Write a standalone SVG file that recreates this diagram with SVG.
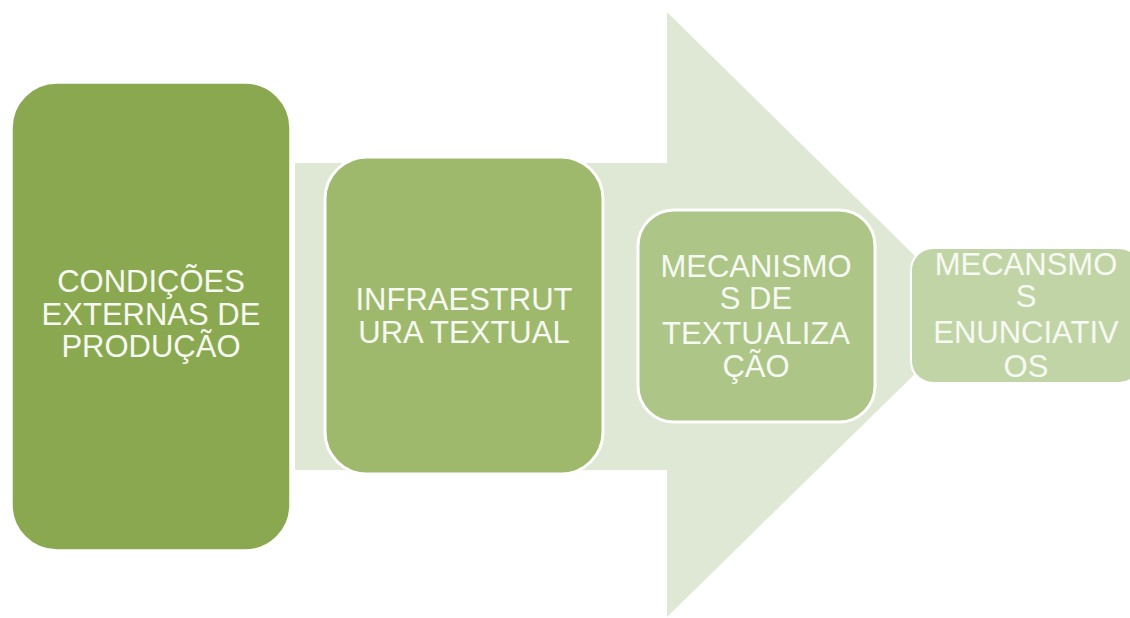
<svg xmlns="http://www.w3.org/2000/svg" width="1130" height="618" viewBox="0 0 1130 618">
  <style>
    .lbl { font-family: "Liberation Sans", Arial, sans-serif; font-size: 31px; fill: #f7faf2; text-anchor: middle; }
    .box { stroke: #ffffff; }
  </style>
  <rect width="1130" height="618" fill="#ffffff"/>
  <g id="connectors">
    <path d="M295,163 L667,163 L667,12 L975,315 L667,617 L667,470 L295,470 Z" fill="#dfe8d4"/>
  </g>
  <g id="node1">
    <rect class="box" x="12" y="83" width="278" height="467" rx="45" ry="45" fill="#8aa84f" stroke-width="1.5"/>
    <text class="lbl" x="151" y="292">CONDIÇÕES</text>
    <text class="lbl" x="151" y="325">EXTERNAS DE</text>
    <text class="lbl" x="151" y="357">PRODUÇÃO</text>
  </g>
  <g id="node2">
    <rect class="box" x="325" y="157" width="278" height="317" rx="42" ry="42" fill="#9eb96c" stroke-width="3"/>
    <text class="lbl" x="464" y="310">INFRAESTRUT</text>
    <text class="lbl" x="464" y="343">URA TEXTUAL</text>
  </g>
  <g id="node3">
    <rect class="box" x="638" y="210" width="237" height="212" rx="36" ry="36" fill="#adc587" stroke-width="3"/>
    <text class="lbl" x="756" y="277">MECANISMO</text>
    <text class="lbl" x="756" y="309">S DE</text>
    <text class="lbl" x="756" y="344">TEXTUALIZA</text>
    <text class="lbl" x="756" y="377">ÇÃO</text>
  </g>
  <g id="node4">
    <rect class="box" x="911" y="248" width="230" height="135" rx="22" ry="22" fill="#c1d4a6" stroke-width="2"/>
    <text class="lbl" x="1026" y="275">MECANSMO</text>
    <text class="lbl" x="1026" y="307">S</text>
    <text class="lbl" x="1026" y="343">ENUNCIATIV</text>
    <text class="lbl" x="1026" y="377">OS</text>
  </g>
</svg>
